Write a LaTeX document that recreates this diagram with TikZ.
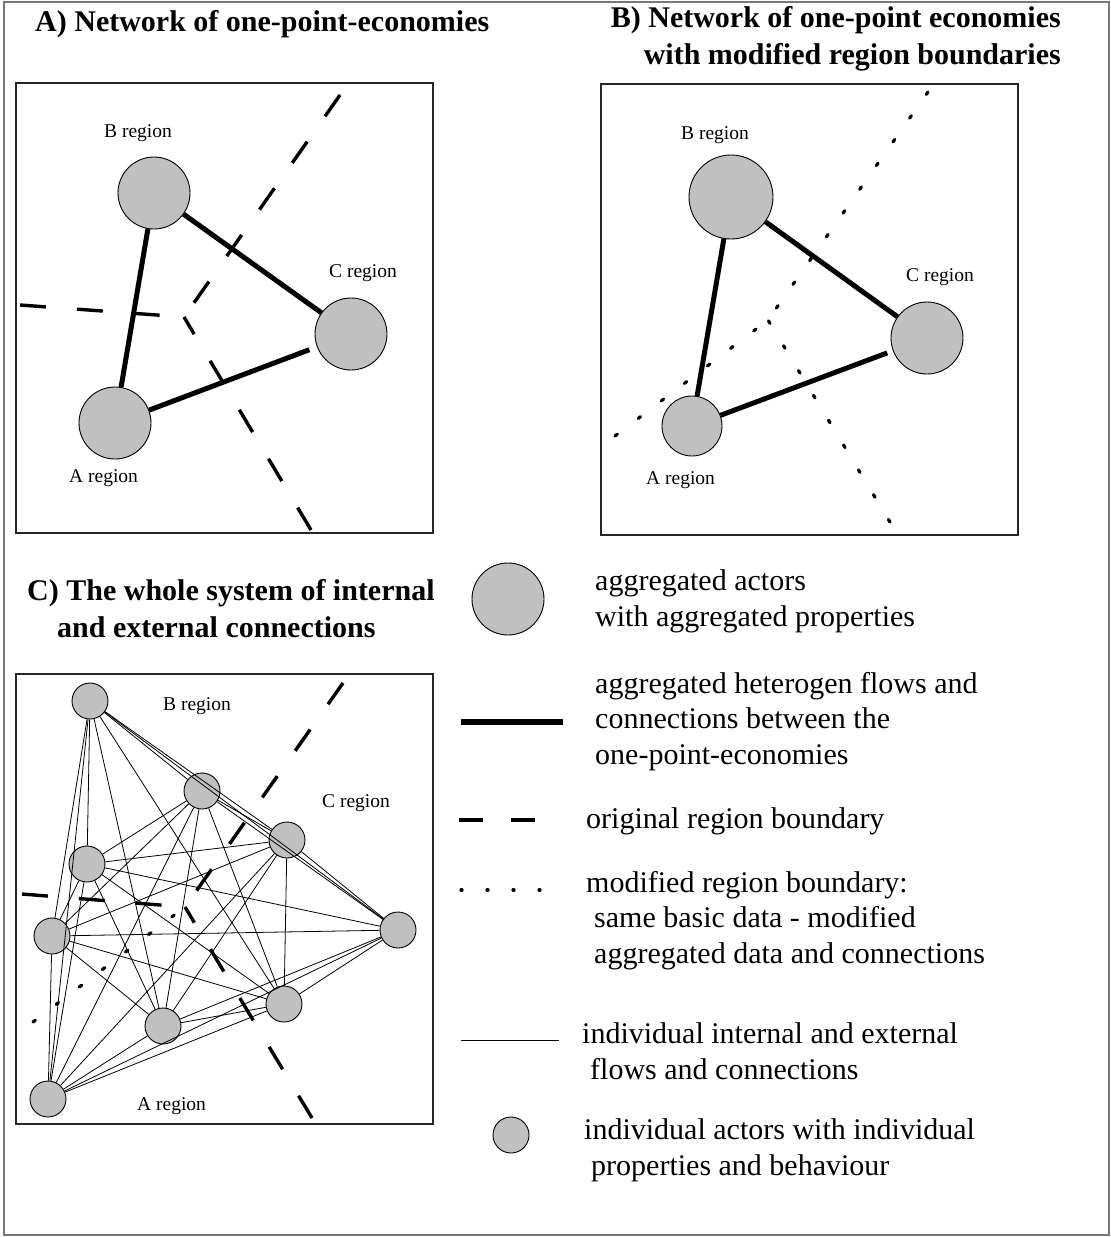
\documentclass[tikz,border=0pt]{standalone}
\usepackage{fontspec}
\setmainfont{Liberation Serif}
\usepackage{tikz}
\definecolor{actorgray}{RGB}{192,192,192}
\definecolor{framegray}{RGB}{120,120,120}
\newcommand{\titlefont}{\fontsize{30}{37}\selectfont\bfseries}
\newcommand{\legendfont}{\fontsize{30}{35.5}\selectfont}
\newcommand{\regionfont}{\fontsize{19.5}{22}\selectfont}

\begin{document}
\begin{tikzpicture}[x=1pt,y=-1pt,
  actor/.style={circle,draw=black,line width=0.9pt,fill=actorgray,inner sep=0pt,minimum size=72pt},
  agent/.style={actor,minimum size=36pt},
  flow/.style={line width=5pt},
  link/.style={line width=0.8pt},
  oldborder/.style={line width=3.4pt,dash pattern=on 26pt off 31pt},
  newborder/.style={line width=3.2pt,line cap=round,dash pattern=on 3pt off 26pt},
  panel/.style={draw=black!85,line width=1.3pt},
  title/.style={font=\titlefont,inner sep=0pt,align=left},
  region/.style={font=\regionfont,inner sep=0pt,anchor=base west},
  legend/.style={font=\legendfont,inner sep=0pt,anchor=base west,align=left}]

  \useasboundingbox (0,0) rectangle (1111,1237);
  \draw[framegray,line width=1.8pt] (4,2) rectangle (1109,1235);

  % titles (multi-line nodes sit on the baseline of their last line)
  \node[title,anchor=base west] (titleA) at (35,31) {A) Network of one-point-economies};
  \node[title,anchor=base east,align=right] (titleB) at (1061,64) {B) Network of one-point economies\\with modified region boundaries};
  \node[title,anchor=base west] (titleC) at (27,637) {C) The whole system of internal\\\hspace*{30pt}and external connections};

  % panel A
  \draw[panel] (16,83) rectangle (433,533);
  \node[actor] (aB) at (154,193) {};
  \node[actor] (aC) at (351,334) {};
  \node[actor] (aA) at (115,423) {};
  \node[region] (aBl) at (104,137) {B region};
  \node[region] (aCl) at (329,277) {C region};
  \node[region] (aAl) at (69,482)  {A region};
  \path[flow] (aB) edge (aA)
                   edge (aC)
              (aA) edge[shorten >=8pt] (aC);
  \coordinate (aJ) at (184,317);
  \coordinate (aN) at (340,95);
  \coordinate (aW) at (20,305);
  \coordinate (aS) at (311,530);
  \draw[oldborder] (aN) -- (aJ) (aW) -- (aJ) (aS) -- (aJ);

  % panel B
  \draw[panel] (601,84) rectangle (1018,535);
  \node[actor,minimum size=84pt] (bB) at (731,197) {};
  \node[actor] (bC) at (927,338) {};
  \node[actor,minimum size=60pt] (bA) at (692,426) {};
  \node[region] (bBl) at (681,139) {B region};
  \node[region] (bCl) at (906,281) {C region};
  \node[region] (bAl) at (646,484) {A region};
  \path[flow] (bB) edge (bA)
                   edge (bC)
              (bA) edge[shorten >=6pt] (bC);
  \coordinate (bJ) at (768,320);
  \coordinate (bN) at (928,92);
  \coordinate (bSW) at (615,436);
  \coordinate (bS) at (890,522);
  \draw[newborder] (bN) -- (bJ) (bSW) -- (bJ) (bS) -- (bJ);

  % panel C
  \draw[panel] (16,674) rectangle (433,1124);
  \node[agent] (c1) at (90,701) {};
  \node[agent] (c2) at (202,791) {};
  \node[agent] (c3) at (287,840) {};
  \node[agent] (c4) at (87,864) {};
  \node[agent] (c5) at (52,936) {};
  \node[agent] (c6) at (398,930) {};
  \node[agent] (c7) at (284,1004) {};
  \node[agent] (c8) at (163,1026) {};
  \node[agent] (c9) at (48,1099) {};
  \foreach \i in {1,...,8}{
    \pgfmathtruncatemacro{\nxt}{\i+1}
    \foreach \j in {\nxt,...,9}
      \draw[link] (c\i) -- (c\j);
  }
  \node[region] (cBl) at (163,710)  {B region};
  \node[region] (cCl) at (322,807)  {C region};
  \node[region] (cAl) at (137,1110) {A region};
  \coordinate (cJ) at (185,907);
  \coordinate (cN) at (343,683);
  \coordinate (cW) at (22,894);
  \coordinate (cS) at (312,1118);
  \coordinate (cSW) at (33,1022);
  \draw[oldborder] (cN) -- (cJ) (cW) -- (cJ) (cS) -- (cJ);
  \draw[newborder] (cSW) -- (cJ);

  % legend
  \node[actor] (lgActor) at (508,599) {};
  \node[legend] (lgActorT) at (595,626) {aggregated actors\\with aggregated properties};
  \coordinate (lgFlowL) at (461,722);
  \coordinate (lgFlowR) at (563,722);
  \draw[flow,line width=6pt] (lgFlowL) -- (lgFlowR);
  \node[legend] (lgFlowT) at (595,764) {aggregated heterogen flows and\\connections between the\\one-point-economies};
  \coordinate (lgOldL) at (459,820);
  \coordinate (lgOldR) at (536,820);
  \draw[oldborder,dash pattern=on 24pt off 28pt] (lgOldL) -- (lgOldR);
  \node[legend] (lgOldT) at (586,828) {original region boundary};
  \coordinate (lgNewL) at (461,890);
  \coordinate (lgNewR) at (542,890);
  \draw[newborder,dash pattern=on 1pt off 25pt] (lgNewL) -- (lgNewR);
  \node[legend] (lgNewT) at (586,963) {modified region boundary:\\\hspace*{8pt}same basic data - modified\\\hspace*{8pt}aggregated data and connections};
  \coordinate (lgLinkL) at (461,1040);
  \coordinate (lgLinkR) at (559,1040);
  \draw[link] (lgLinkL) -- (lgLinkR);
  \node[legend] (lgLinkT) at (582,1079) {individual internal and external\\\hspace*{8pt}flows and connections};
  \node[agent] (lgAgent) at (511,1135) {};
  \node[legend] (lgAgentT) at (584,1175) {individual actors with individual\\\hspace*{7pt}properties and behaviour};
\end{tikzpicture}
\end{document}
